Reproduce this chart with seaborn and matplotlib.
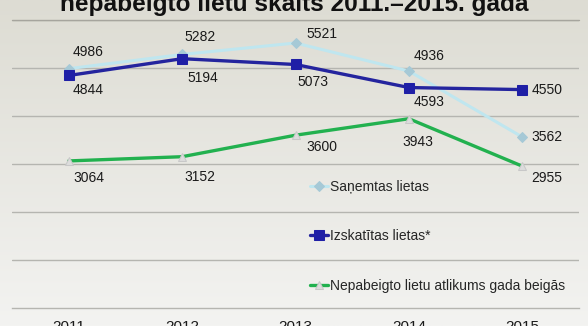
import numpy as np
import pandas as pd
import matplotlib
matplotlib.use("Agg")
import matplotlib.pyplot as plt
from matplotlib.colors import LinearSegmentedColormap
import seaborn as sns

years = ["2011", "2012", "2013", "2014", "2015"]
received = [4986, 5282, 5521, 4936, 3562]
reviewed = [4844, 5194, 5073, 4593, 4550]
pending = [3064, 3152, 3600, 3943, 2955]
series_names = ["Saņemtas lietas", "Izskatītas lietas*", "Nepabeigto lietu atlikums gada beigās"]
title = "nepabeigto lietu skaits 2011.–2015. gada"

sns.set_style("white")
plt.rcParams["font.family"] = ["Liberation Sans", "DejaVu Sans"]

fig = plt.figure(figsize=(5.88, 3.26), dpi=100)

# background gradient
bg = fig.add_axes([0, 0, 1, 1], zorder=-1)
cmap = LinearSegmentedColormap.from_list("bg", ["#f3f3f1", "#dddcd3"])
bg.imshow(np.linspace(0, 1, 256).reshape(-1, 1), aspect="auto", cmap=cmap,
          origin="lower", extent=[0, 1, 0, 1])
bg.axis("off")

W, H = 588, 326
ax = fig.add_axes([12 / W, (H - 308) / H, 567 / W, 288 / H])
ax.set_facecolor("none")

x = np.arange(len(years))
df = pd.DataFrame({"x": x, "received": received, "reviewed": reviewed, "pending": pending})

sns.lineplot(data=df, x="x", y="received", ax=ax, color="#bfe6ef", lw=2.2,
             marker="D", markersize=5, markerfacecolor="#a6c9d6", markeredgecolor="#a6c9d6",
             label=series_names[0], zorder=3)
sns.lineplot(data=df, x="x", y="reviewed", ax=ax, color="#24249e", lw=2.4,
             marker="s", markersize=7, markerfacecolor="#1f1fa6", markeredgecolor="#1f1fa6",
             label=series_names[1], zorder=4)
sns.lineplot(data=df, x="x", y="pending", ax=ax, color="#22b14f", lw=2.4,
             marker="^", markersize=6, markerfacecolor="#dcdcdc", markeredgecolor="#c8c8c8",
             label=series_names[2], zorder=3)

# value labels (offsets in pixels)
off_received = [(19, 17), (18, 17), (26, 9), (20, 15), (25, 0)]
off_reviewed = [(19, -15), (21, -19), (17, -18), (20, -14), (25, 0)]
off_pending = [(20, -17), (18, -20), (26, -12), (9, -23), (24, -12)]
for vals, offs in [(received, off_received), (reviewed, off_reviewed), (pending, off_pending)]:
    for xi, v, (dx, dy) in zip(x, vals, offs):
        ax.annotate(str(v), (xi, v), xytext=(dx, dy), textcoords="offset pixels",
                    ha="center", va="center", fontsize=10, color="#1a1a1a", zorder=5)

ax.set_xlim(-0.5, len(years) - 0.5)
ax.set_ylim(0, 6000)
ax.set_yticks(np.arange(1000, 6001, 1000))
ax.yaxis.grid(True, color="#b5b5b0", lw=1)
ax.set_yticklabels([])
ax.tick_params(axis="y", length=0)
for s in ["left", "right", "top"]:
    ax.spines[s].set_visible(False)
ax.spines["bottom"].set_color("#b5b5b0")
ax.spines["bottom"].set_linewidth(1)

ax.set_xticks(x)
ax.set_xticklabels(years, fontsize=11, color="#1a1a1a")
ax.tick_params(axis="x", length=0, pad=8.5)
ax.set_xticks(np.arange(-0.5, len(years)), minor=True)
ax.tick_params(axis="x", which="minor", length=4, color="#b5b5b0", width=1)
ax.set_xlabel("")
ax.set_ylabel("")

# title line (6000 gridline extends)
ax.axhline(6000, color="#a6a59e", lw=1, clip_on=False)

leg = ax.legend(loc="upper left", bbox_to_anchor=(0.525, 0.445), frameon=False,
                fontsize=10, handlelength=1.3, handletextpad=0.15,
                labelspacing=2.55, borderpad=0, borderaxespad=0)

fig.text(0.5, 1 - 11 / H, title, ha="center", va="baseline", fontsize=17.6,
         fontweight="bold", color="#111111")

fig.savefig("out.png", dpi=100)
